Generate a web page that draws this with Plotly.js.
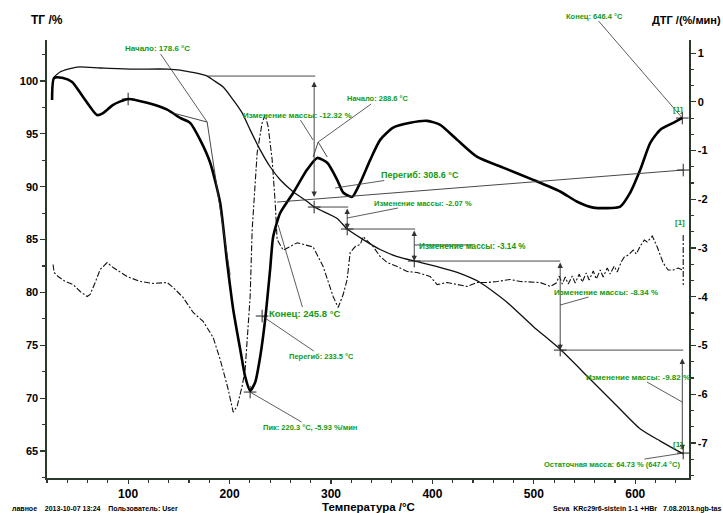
<!DOCTYPE html>
<html>
<head>
<meta charset="utf-8">
<script src="https://cdn.plot.ly/plotly-3.0.1.min.js"></script>
<style>
  html, body { margin: 0; padding: 0; background: #fff; }
  #chart { width: 723px; height: 513px; }
</style>
</head>
<body>
<div id="chart"></div>
<script>
// ---- TG curve, mass %, left axis ----
const tgTemp = [27, 32.9, 49.7, 72.4, 102, 138.5, 151.3, 177.9, 183.8, 193.7, 203.6, 212.4, 220.3, 230.2, 240, 249.9, 262.7, 276.5, 283.4, 289.3, 306.1, 316, 331.8, 348.5, 365.3, 385, 404.7, 424.5, 447.1, 473.8, 499.4, 526, 552.7, 578.3, 605, 624.7, 647.4];
const tgMass = [100.38, 100.85, 101.32, 101.23, 101.13, 101.13, 101.04, 100.47, 100.09, 99.43, 98.21, 96.98, 95.38, 93.49, 91.89, 90.66, 89.53, 88.6, 88.08, 87.8, 87.0, 86.0, 85.0, 84.06, 83.4, 82.92, 82.45, 81.89, 80.94, 79.06, 76.79, 74.62, 72.08, 69.62, 67.08, 65.94, 64.73];

// ---- DTG curve, %/min, right axis ----
const dtgTemp = [25, 27, 35.9, 44.8, 55.6, 69.4, 75.3, 85.2, 100, 118.7, 138.5, 151.3, 161.1, 171, 180.9, 190.7, 197.6, 203.6, 210.5, 215.4, 220.3, 225.2, 230.2, 235.1, 240, 243, 249.9, 262.7, 276.5, 286.4, 296.3, 306.1, 312, 320.9, 328.8, 338.7, 348.5, 361.3, 378.1, 394.9, 407.7, 424.5, 444.2, 469.8, 499.4, 526, 542.8, 558.6, 585.2, 595.1, 605, 614.8, 624.7, 637.5, 646.4];
const dtgRate = [0.04, 0.49, 0.49, 0.41, 0.10, -0.27, -0.23, -0.06, 0.06, -0.02, -0.16, -0.33, -0.43, -0.78, -1.25, -2.07, -3.30, -4.26, -5.08, -5.64, -5.93, -5.76, -5.23, -4.47, -3.44, -2.77, -2.28, -1.87, -1.39, -1.15, -1.25, -1.60, -1.86, -1.95, -1.66, -1.19, -0.78, -0.53, -0.43, -0.39, -0.47, -0.78, -1.13, -1.35, -1.60, -1.84, -2.05, -2.17, -2.15, -1.86, -1.39, -0.84, -0.57, -0.43, -0.33];

// ---- dash-dot signal, drawn against the left scale ----
const sigTemp = [26, 27, 31, 37.9, 45.8, 52.7, 59.6, 62.5, 67.5, 72.4, 79.3, 85.2, 99, 111.8, 124.7, 138.5, 144.4, 154.2, 164.1, 174, 183.8, 190.7, 198.6, 203.6, 207.5, 212.4, 215.4, 218.3, 220.3, 222.3, 227.2, 232.1, 235.1, 238.1, 242, 245, 246.9, 252.9, 266.7, 282.4, 292.3, 302.2, 307.1, 312, 315.9, 318.9, 323.9, 328.8, 331.8, 336.7, 341.6, 348.5, 355.4, 365.3, 375.1, 385, 397.8, 404.7, 414.6, 424.5, 434.3, 444.2, 454, 463.9, 476.7, 486.6, 506.3, 516.2, 522.1, 525.1, 528, 531, 533.9, 537.9, 540.8, 544.8, 547.7, 551.7, 554.6, 558.6, 561.6, 565.5, 568.4, 572.4, 575.3, 579.3, 582.2, 586.2, 589.2, 593.1, 598, 601, 605, 608.9, 611.8, 616.8, 621.7, 627.6, 632.5, 637.5, 642.4, 646.4];
const sigVal = [82.64, 81.89, 81.51, 81.04, 80.75, 80.09, 79.62, 79.81, 80.94, 82.17, 82.83, 82.36, 81.51, 81.04, 80.85, 80.94, 80.47, 79.53, 78.11, 77.26, 75.75, 73.68, 70.85, 68.68, 69.25, 71.13, 72.74, 76.51, 79.62, 85.94, 93.21, 96.04, 96.79, 95.66, 92.55, 88.49, 85.0, 84.0, 84.7, 84.3, 82.45, 79.6, 78.58, 79.8, 81.2, 83.77, 84.34, 84.53, 85.28, 84.81, 84.34, 83.4, 82.83, 82.45, 81.98, 81.89, 81.51, 80.75, 80.94, 80.75, 80.57, 80.94, 80.94, 81.04, 81.23, 81.04, 80.94, 80.57, 80.89, 81.55, 80.80, 81.46, 80.80, 81.55, 80.89, 81.74, 80.99, 81.84, 81.18, 82.03, 81.27, 82.12, 81.46, 82.31, 81.74, 82.50, 81.93, 82.88, 83.35, 83.54, 84.01, 83.63, 84.39, 84.96, 84.77, 85.34, 84.30, 82.78, 82.12, 82.12, 82.31, 82.12];

// ---- evaluation construction lines (temperature, mass %) ----
const guideSegs = [
  [144.4, 96.97, 177.9, 96.12],
  [177.9, 96.12, 200.6, 81.65],
  [177.9, 100.47, 284.4, 100.47],
  [282.4, 92.81, 287.4, 94.23],
  [287.4, 94.23, 296.3, 92.81],
  [246.9, 88.55, 647.3, 91.58],
  [282.4, 88.08, 317.0, 88.08],
  [314.0, 86.00, 383.0, 86.00],
  [382.1, 82.97, 526.0, 82.97],
  [526.0, 74.55, 647.3, 74.55],
  [382.1, 84.49, 440.2, 84.49]
];
const signalEnd = [647.3, 85.43, 647.3, 80.70];

// mass-change steps: [temperature, upper %, lower %]
const stepArrows = [
  [283.4, 100.09, 89.03],
  [316.0, 88.08, 86.00],
  [382.1, 86.00, 82.97],
  [526.0, 82.97, 74.55],
  [646.4, 73.89, 65.09]
];

// evaluation point markers
const crossTemp = [100, 646.4, 647.3, 283.4, 316.0, 382.1, 526.0, 647.3, 232.1, 220.3];
const crossMass = [98.30, 96.50, 91.58, 88.08, 86.00, 82.97, 74.55, 64.81, 77.77, 70.58];

// result labels: [text, label temp, label %, point temp, point %, font size]
const resultLabels = [
  ['Начало: 178.6 °C', 128.6, 103.03, 177.9, 96.12, 8],
  ['Изменение массы: -12.32 %', 266.7, 96.78, 282.4, 94.42, 8],
  ['Начало: 288.6 °C', 346.5, 98.30, 287.4, 94.23, 7.5],
  ['Перегиб: 308.6 °C', 388.0, 91.11, 304.1, 89.88, 9],
  ['Изменение массы: -2.07 %', 390.9, 88.46, 316.0, 87.04, 7.5],
  ['Изменение массы: -8.34 %', 571.4, 80.04, 526.0, 78.81, 8],
  ['Изменение массы: -9.82 %', 602.9, 72.00, 646.4, 69.63, 8],
  ['Остаточная масса: 64.73 % (647.4 °C)', 577.3, 63.77, 647.3, 64.81, 7.5],
  ['Конец: 646.4 °C', 559.6, 106.15, 646.4, 96.50, 7.5],
  ['Конец: 245.8 °C', 273.6, 78.05, 247.9, 86.38, 9.5],
  ['Перегиб: 233.5 °C', 290.3, 73.99, 232.1, 77.77, 7.5],
  ['Пик: 220.3 °C, -5.93 %/мин', 279.5, 67.27, 220.3, 70.58, 7.5]
];
const plainLabels = [
  ['Изменение массы: -3.14 %', 440.0, 84.39, 8.2],
  ['[1]', 642.4, 97.35, 8],
  ['[1]', 644.4, 86.66, 8],
  ['[1]', 642.4, 65.66, 8]
];

const tgTicks = [65, 70, 75, 80, 85, 90, 95, 100];
const dtgTicks = [1, 0, -1, -2, -3, -4, -5, -6, -7];
const tempTicks = [100, 200, 300, 400, 500, 600];

const FONT = 'Liberation Sans, Arial, sans-serif';
const GREEN = '#129a12';
const AXIS = '#2b3b2b';

const traces = [
  {
    x: sigTemp, y: sigVal, yaxis: 'y', mode: 'lines',
    line: { color: '#111', width: 1.1, dash: '6px,2px,2px,2px' },
    hoverinfo: 'skip', showlegend: false
  },
  {
    x: tgTemp, y: tgMass, yaxis: 'y', mode: 'lines',
    line: { color: '#111', width: 1.3, shape: 'spline', smoothing: 0.6 },
    hoverinfo: 'skip', showlegend: false
  },
  {
    x: dtgTemp, y: dtgRate, yaxis: 'y2', mode: 'lines',
    line: { color: '#000', width: 2.6, shape: 'spline', smoothing: 0.6 },
    hoverinfo: 'skip', showlegend: false
  },
  {
    x: crossTemp, y: crossMass, yaxis: 'y', mode: 'markers',
    marker: { symbol: 'cross-thin', size: 9, line: { color: '#222', width: 1 } },
    hoverinfo: 'skip', showlegend: false
  }
];

const shapes = guideSegs.map(s => ({
  type: 'line', xref: 'x', yref: 'y',
  x0: s[0], y0: s[1], x1: s[2], y1: s[3],
  line: { color: '#333', width: 0.9 }
}));
shapes.push({
  type: 'line', xref: 'x', yref: 'y',
  x0: signalEnd[0], y0: signalEnd[1], x1: signalEnd[2], y1: signalEnd[3],
  line: { color: '#111', width: 1.1, dash: '6px,2px,2px,2px' }
});

const annotations = [];
stepArrows.forEach(a => {
  annotations.push({
    x: a[0], y: a[2], ax: a[0], ay: a[1], xref: 'x', yref: 'y', axref: 'x', ayref: 'y',
    text: '', showarrow: true, arrowside: 'end+start', arrowhead: 2, startarrowhead: 2,
    arrowsize: 1.2, startarrowsize: 1.2, arrowwidth: 0.9, arrowcolor: '#333', standoff: 0, startstandoff: 0
  });
});
resultLabels.forEach(l => {
  annotations.push({
    x: l[3], y: l[4], ax: l[1], ay: l[2], xref: 'x', yref: 'y', axref: 'x', ayref: 'y',
    text: l[0], showarrow: true, arrowhead: 0, arrowwidth: 0.8, arrowcolor: '#333', standoff: 0,
    font: { family: FONT, size: l[5], color: GREEN, weight: 'bold' }, borderpad: 0
  });
});
plainLabels.forEach(l => {
  annotations.push({
    x: l[1], y: l[2], xref: 'x', yref: 'y', text: l[0], showarrow: false,
    font: { family: FONT, size: l[3], color: GREEN, weight: 'bold' }
  });
});

// axis captions and footer lines
annotations.push(
  { xref: 'paper', yref: 'paper', x: -0.0, y: 1.046, xanchor: 'center', yanchor: 'middle',
    text: 'ТГ /%', showarrow: false, font: { family: FONT, size: 12, color: '#000', weight: 'bold' } },
  { xref: 'paper', yref: 'paper', x: 0.9395, y: 1.046, xanchor: 'left', yanchor: 'middle',
    text: 'ДТГ /(%/мин)', showarrow: false, font: { family: FONT, size: 11, color: '#000', weight: 'bold' } },
  { xref: 'paper', yref: 'paper', x: 0.5, y: -0.0665, xanchor: 'center', yanchor: 'middle',
    text: 'Температура /°C', showarrow: false, font: { family: FONT, size: 11.5, color: '#000', weight: 'bold' } },
  { xref: 'paper', yref: 'paper', x: -0.0576, y: -0.0705, xanchor: 'left', yanchor: 'middle',
    text: 'лавное&nbsp;&nbsp;&nbsp;&nbsp;2013-10-07 13:24&nbsp;&nbsp;&nbsp;&nbsp;Пользователь: User', showarrow: false,
    font: { family: FONT, size: 7, color: '#000', weight: 'bold' } },
  { xref: 'paper', yref: 'paper', x: 1.053, y: -0.0705, xanchor: 'right', yanchor: 'middle',
    text: 'Seva&nbsp;&nbsp;KRc29r6-sistein 1-1 +HBr&nbsp;&nbsp;&nbsp;7.08.2013.ngb-tas', showarrow: false,
    font: { family: FONT, size: 7, color: '#000', weight: 'bold' } }
);

const layout = {
  width: 723, height: 513,
  margin: { l: 47, r: 34, t: 40, b: 35 },
  paper_bgcolor: '#fff', plot_bgcolor: '#fff',
  showlegend: false,
  font: { family: FONT, color: '#000' },
  xaxis: {
    range: [20, 653], tickvals: tempTicks, ticktext: tempTicks.map(String),
    showgrid: false, zeroline: false, showline: true, linecolor: AXIS, linewidth: 1.6,
    ticks: 'outside', ticklen: 4, tickwidth: 1.2, tickcolor: AXIS,
    minor: { dtick: 20, tick0: 0, ticks: 'outside', ticklen: 3, tickcolor: AXIS, showgrid: false },
    tickfont: { family: FONT, size: 12, color: '#000', weight: 'bold' }
  },
  yaxis: {
    range: [62.45, 103.88], tickvals: tgTicks, ticktext: tgTicks.map(String),
    showgrid: false, zeroline: false, showline: true, linecolor: AXIS, linewidth: 1.6,
    ticks: 'outside', ticklen: 5, tickwidth: 1.2, tickcolor: AXIS,
    minor: { dtick: 2.5, tick0: 0, ticks: 'outside', ticklen: 3, tickcolor: AXIS, showgrid: false },
    tickfont: { family: FONT, size: 11, color: '#000', weight: 'bold' }
  },
  yaxis2: {
    overlaying: 'y', side: 'right', anchor: 'x',
    range: [-7.72, 1.27], tickvals: dtgTicks, ticktext: dtgTicks.map(String),
    showgrid: false, zeroline: false, showline: true, linecolor: AXIS, linewidth: 1.6,
    ticks: 'outside', ticklen: 5, tickwidth: 1.2, tickcolor: AXIS,
    minor: { dtick: 1 / 3, tick0: 0, ticks: 'outside', ticklen: 3, tickcolor: AXIS, showgrid: false },
    tickfont: { family: FONT, size: 11, color: '#000', weight: 'bold' }
  },
  shapes: shapes,
  annotations: annotations
};

Plotly.newPlot('chart', traces, layout, { staticPlot: true, displayModeBar: false });
</script>
</body>
</html>
